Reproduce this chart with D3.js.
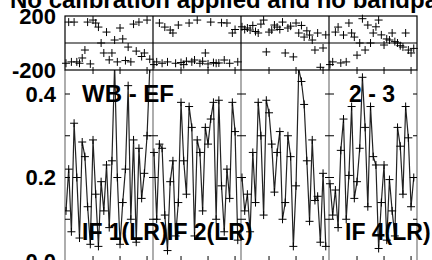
<!DOCTYPE html>
<html><head><meta charset="utf-8">
<script src="https://cdn.jsdelivr.net/npm/d3@7"></script>
<style>body{margin:0;background:#fff}svg{display:block}text{font-family:"Liberation Sans",Arial,sans-serif;font-weight:bold;fill:#000}</style>
</head><body><svg id="c" width="432" height="260"></svg>
<script>
const titleText = "No calibration applied and no bandpass";
const baselineLabel = "WB - EF";
const stokesLabel = "2 - 3";
const ifLabels = ["IF 1(LR)", "IF 2(LR)", "", "IF 4(LR)"];
const channels = d3.range(32);
const phaseTickLabels = [200, -200];
const ampTickLabels = [0.4, 0.2, 0.0];
const ampTicks = [0.1, 0.2, 0.3, 0.4];
const chanTicks = [10, 20, 30];

const amp1 = [0.12,0.22,0.07,0.33,0.20,0.055,0.285,0.25,0.13,0.04,
  0.29,0.16,0.035,0.19,0.12,0.23,0.08,0.24,0.47,0.20,
  0.04,0.14,0.22,0.42,0.10,0.29,0.045,0.27,0.15,0.21,
  0.30,0.46];
const amp2 = [0.26,0.10,0.28,0.27,0.11,0.025,0.19,0.24,0.06,0.14,
  0.38,0.24,0.16,0.37,0.32,0.06,0.29,0.26,0.12,0.32,
  0.28,0.34,0.38,0.10,0.385,0.18,0.07,0.22,0.15,0.38,
  0.31,0.05];
const amp3 = [0.20,0.12,0.16,0.07,0.26,0.14,0.38,0.30,0.11,0.385,
  0.355,0.28,0.165,0.26,0.31,0.10,0.14,0.30,0.25,0.035,
  0.18,0.46,0.43,0.375,0.24,0.095,0.29,0.145,0.155,0.045,
  0.21,0.035];
const amp4 = [0.185,0.11,0.17,0.08,0.265,0.34,0.10,0.205,0.37,0.15,
  0.19,0.27,0.44,0.32,0.13,0.37,0.25,0.23,0.03,0.14,
  0.23,0.05,0.195,0.12,0.06,0.32,0.275,0.16,0.37,0.295,
  0.13,0.20];

const phase1 = [-150,155,-140,155,-140,-150,-111,-52,155,-155,
  170,148,118,0,-74,81,-125,-74,22,-140,
  111,30,-130,-30,-140,140,-60,155,-100,-74,
  170,-120];
const phase2 = [-160,-140,148,-150,118,-140,96,74,-150,133,
  -145,-160,-135,148,-140,-126,170,-150,-135,-74,
  -155,155,-145,-150,-148,150,-126,148,-150,74,
  100,-140];
const phase3 = [120,100,111,96,130,85,74,140,170,-66,
  81,96,133,118,100,155,-74,111,125,-103,
  148,74,130,44,90,59,22,-52,74,-180,
  -37,60];
const phase4 = [-160,-140,81,118,-148,59,-140,148,74,44,
  -90,0,180,-52,133,0,74,120,170,60,
  -15,30,22,74,10,0,-20,-30,74,-52,
  -74,-40];

const amps = [amp1, amp2, amp3, amp4];
const phases = [phase1, phase2, phase3, phase4];

const svg = d3.select("#c");
const X0 = 65, PW = 88, TOP = 16, MID = 70, BOT = 261;
const yPh = d3.scaleLinear().domain([-200, 200]).range([MID, TOP]);
const yAmp = d3.scaleLinear().domain([0, 0.4]).range([BOT, 94]);
const panelX = d3.scaleLinear().domain([0, 4]).range([X0, X0 + 4 * PW]);

const defs = svg.append("defs");
defs.append("clipPath").attr("id", "ampclip")
  .append("rect").attr("x", X0).attr("y", MID).attr("width", 4 * PW).attr("height", BOT - MID);
defs.append("clipPath").attr("id", "phclip")
  .append("rect").attr("x", X0 - 5).attr("y", TOP - 5).attr("width", 4 * PW + 10).attr("height", MID - TOP + 5);

function plus(g, x, y, s) {
  g.append("path").attr("d", `M${x - s},${y}H${x + s}M${x},${y - s}V${y + s}`)
    .attr("stroke", "#000").attr("stroke-width", 1).attr("fill", "none");
}

// title
svg.append("text").attr("x", 10).attr("y", 7.5).style("font-size", "24px").text(titleText);

// bottom panel dividers (grey)
for (let i = 0; i <= 4; i++) {
  svg.append("line").attr("x1", panelX(i)).attr("x2", panelX(i)).attr("y1", MID).attr("y2", BOT)
    .attr("stroke", "#777").attr("stroke-width", 1.2);
}

const ampG = svg.append("g").attr("clip-path", "url(#ampclip)");
const phG = svg.append("g").attr("clip-path", "url(#phclip)");

for (let i = 0; i < 4; i++) {
  const x = d3.scaleLinear().domain([-0.37, 32.2]).range([panelX(i), panelX(i + 1)]);
  const line = d3.line().x((d, k) => x(channels[k])).y(d => yAmp(d));
  ampG.append("path").datum(amps[i]).attr("d", line)
    .attr("fill", "none").attr("stroke", "#222").attr("stroke-width", 1.2);
  amps[i].forEach((v, k) => plus(ampG, x(channels[k]), yAmp(v), 4));
  phases[i].forEach((v, k) => plus(phG, x(channels[k]), yPh(v), 4));

  chanTicks.forEach(c => {
    const tx = x(c);
    svg.append("line").attr("x1", tx).attr("x2", tx).attr("y1", BOT).attr("y2", BOT - 5).attr("stroke", "#000");
    svg.append("line").attr("x1", tx).attr("x2", tx).attr("y1", MID - 3).attr("y2", MID + 4).attr("stroke", "#000");
  });
}

// amplitude y ticks at each divider
for (let i = 0; i <= 4; i++) {
  const px = panelX(i);
  const l = i === 0 ? 0 : 4, r = i === 4 ? 0 : 5;
  ampTicks.forEach(t => {
    svg.append("line").attr("x1", px - l).attr("x2", px + r).attr("y1", yAmp(t)).attr("y2", yAmp(t))
      .attr("stroke", "#000");
  });
}

// top panel frame
const frame = svg.append("g").attr("stroke", "#000").attr("fill", "none").attr("stroke-width", 1.2);
frame.append("rect").attr("x", X0).attr("y", TOP).attr("width", 4 * PW).attr("height", MID - TOP);
frame.append("line").attr("x1", X0).attr("x2", X0 + 4 * PW).attr("y1", yPh(0)).attr("y2", yPh(0));
for (let i = 1; i < 4; i++) {
  frame.append("line").attr("x1", panelX(i)).attr("x2", panelX(i)).attr("y1", TOP).attr("y2", MID);
}

// axis labels
phaseTickLabels.forEach(t => {
  svg.append("text").attr("x", 56).attr("y", yPh(t)).attr("dy", "0.36em").attr("text-anchor", "end")
    .style("font-size", "22px").text(String(t));
});
ampTickLabels.forEach(t => {
  svg.append("text").attr("x", 56).attr("y", yAmp(t)).attr("dy", "0.36em").attr("text-anchor", "end")
    .style("font-size", "22px").text(t.toFixed(1));
});

// panel labels
const lab = (t, x, y, s) => svg.append("text").attr("x", x).attr("y", y).style("font-size", s + "px").text(t);
lab(baselineLabel, 82, 102, 24);
lab(stokesLabel, 349, 102, 23);
const ifX = [82, 167, 0, 345];
ifLabels.forEach((t, i) => { if (t) lab(t, ifX[i], 240, 23); });
</script></body></html>
